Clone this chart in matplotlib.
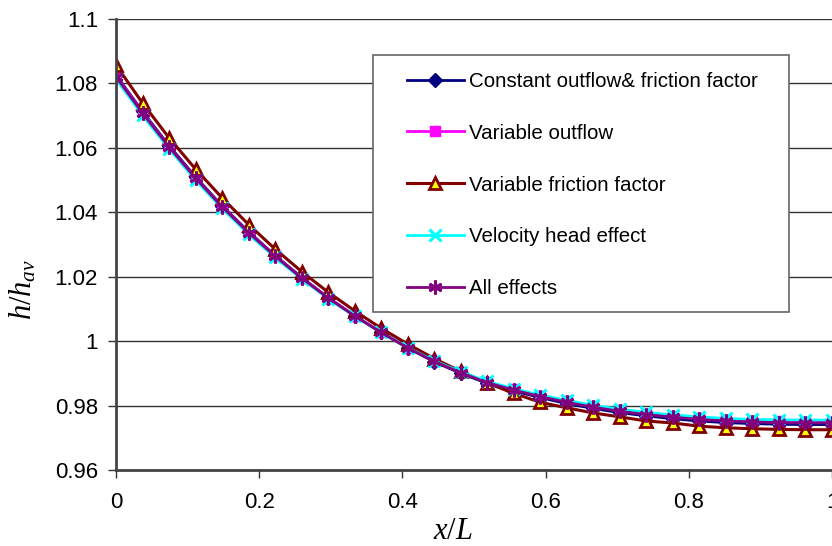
import numpy as np
import matplotlib
matplotlib.use("Agg")
import matplotlib.pyplot as plt
from matplotlib.patches import Rectangle

plt.rcParams['font.family'] = ['Liberation Sans', 'DejaVu Sans']
plt.rcParams['mathtext.fontset'] = 'custom'
plt.rcParams['mathtext.it'] = 'Liberation Serif:italic'
plt.rcParams['mathtext.rm'] = 'Liberation Serif'

# x/L positions, 28 stations
x = np.arange(28) / 27

constant = [1.0826, 1.0713, 1.0607, 1.0510, 1.0420, 1.0340, 1.0266, 1.0198, 1.0135, 1.0079,
            1.0027, 0.9979, 0.9936, 0.9900, 0.9869, 0.9845, 0.9825, 0.9806, 0.9791, 0.9778,
            0.9768, 0.9759, 0.9752, 0.9747, 0.9744, 0.9742, 0.9741, 0.9741]
var_outflow = [1.0823, 1.0710, 1.0604, 1.0507, 1.0418, 1.0338, 1.0265, 1.0197, 1.0135, 1.0079,
               1.0028, 0.9980, 0.9938, 0.9903, 0.9873, 0.9850, 0.9830, 0.9813, 0.9798, 0.9785,
               0.9775, 0.9767, 0.9760, 0.9755, 0.9753, 0.9751, 0.9750, 0.9750]
var_friction = [1.0857, 1.0739, 1.0631, 1.0534, 1.0445, 1.0362, 1.0286, 1.0216, 1.0152, 1.0094,
                1.0040, 0.9991, 0.9946, 0.9906, 0.9870, 0.9838, 0.9810, 0.9793, 0.9777, 0.9765,
                0.9752, 0.9746, 0.9736, 0.9731, 0.9728, 0.9726, 0.9725, 0.9725]
vel_head = [1.0814, 1.0701, 1.0597, 1.0500, 1.0412, 1.0332, 1.0260, 1.0193, 1.0132, 1.0077,
            1.0027, 0.9980, 0.9939, 0.9905, 0.9875, 0.9852, 0.9833, 0.9816, 0.9801, 0.9789,
            0.9779, 0.9771, 0.9765, 0.9760, 0.9757, 0.9756, 0.9755, 0.9755]
all_effects = [1.0821, 1.0708, 1.0603, 1.0506, 1.0417, 1.0337, 1.0264, 1.0196, 1.0134, 1.0078,
               1.0027, 0.9979, 0.9937, 0.9902, 0.9871, 0.9848, 0.9828, 0.9810, 0.9795, 0.9782,
               0.9772, 0.9764, 0.9757, 0.9752, 0.9749, 0.9747, 0.9746, 0.9746]

fig = plt.figure(figsize=(8.32, 5.46), dpi=100)
ax = fig.add_axes([116/832, 76/546, 716/832, 451/546])

ax.plot(x, constant, color='#000080', lw=2, marker='D', ms=7, mfc='#000080', mec='#000080',
        label='Constant outflow& friction factor')
ax.plot(x, var_outflow, color='#ff00ff', lw=2, marker='s', ms=7, mfc='#ff00ff', mec='#ff00ff',
        label='Variable outflow')
ax.plot(x, var_friction, color='#800000', lw=2.2, marker='^', ms=8, mfc='#ffff00', mec='#800000',
        mew=2, label='Variable friction factor')
ax.plot(x, vel_head, color='#00ffff', lw=2, marker='x', ms=9, mew=2.2, mec='#00ffff',
        label='Velocity head effect')
ax.plot(x, all_effects, color='#800080', lw=2, marker=(6, 2, 0), ms=10, mew=2, mec='#800080',
        label='All effects')

ax.set_xlim(0, 1)
ax.set_ylim(0.96, 1.1)
ax.set_xticks([0, 0.2, 0.4, 0.6, 0.8, 1])
ax.set_xticklabels(['0', '0.2', '0.4', '0.6', '0.8', '1'])
ax.set_yticks([0.96, 0.98, 1.0, 1.02, 1.04, 1.06, 1.08, 1.1])
ax.set_yticklabels(['0.96', '0.98', '1', '1.02', '1.04', '1.06', '1.08', '1.1'])
ax.tick_params(labelsize=16, length=6, width=1, color='#333333')
ax.tick_params(axis='x', pad=10)
ax.tick_params(axis='y', pad=7)
ax.yaxis.grid(True, color='#333333', lw=1)
ax.set_axisbelow(True)
for s in ['top', 'right']:
    ax.spines[s].set_visible(False)
for s in ['left', 'bottom']:
    ax.spines[s].set_color('#444444')
    ax.spines[s].set_linewidth(2)

ax.set_xlabel(r'$x/L$', fontsize=22)
ax.xaxis.set_label_coords(0.471, -0.103)
ax.set_ylabel(r'$h/h_{av}$', fontsize=22)
ax.yaxis.set_label_coords(-0.108, 0.40)

# legend box drawn separately so padding can match
box = Rectangle((0.359, 0.350), 0.581, 0.570, transform=ax.transAxes, facecolor='white',
                edgecolor='#666666', lw=1.2, zorder=4)
ax.add_patch(box)
leg = ax.legend(loc='upper left', bbox_to_anchor=(0.406, 0.883), fontsize=14.8,
                handlelength=2.8, handletextpad=0.25, labelspacing=1.6, borderpad=0,
                borderaxespad=0, frameon=False)
leg.set_zorder(5)

fig.savefig('out.png', dpi=100)
